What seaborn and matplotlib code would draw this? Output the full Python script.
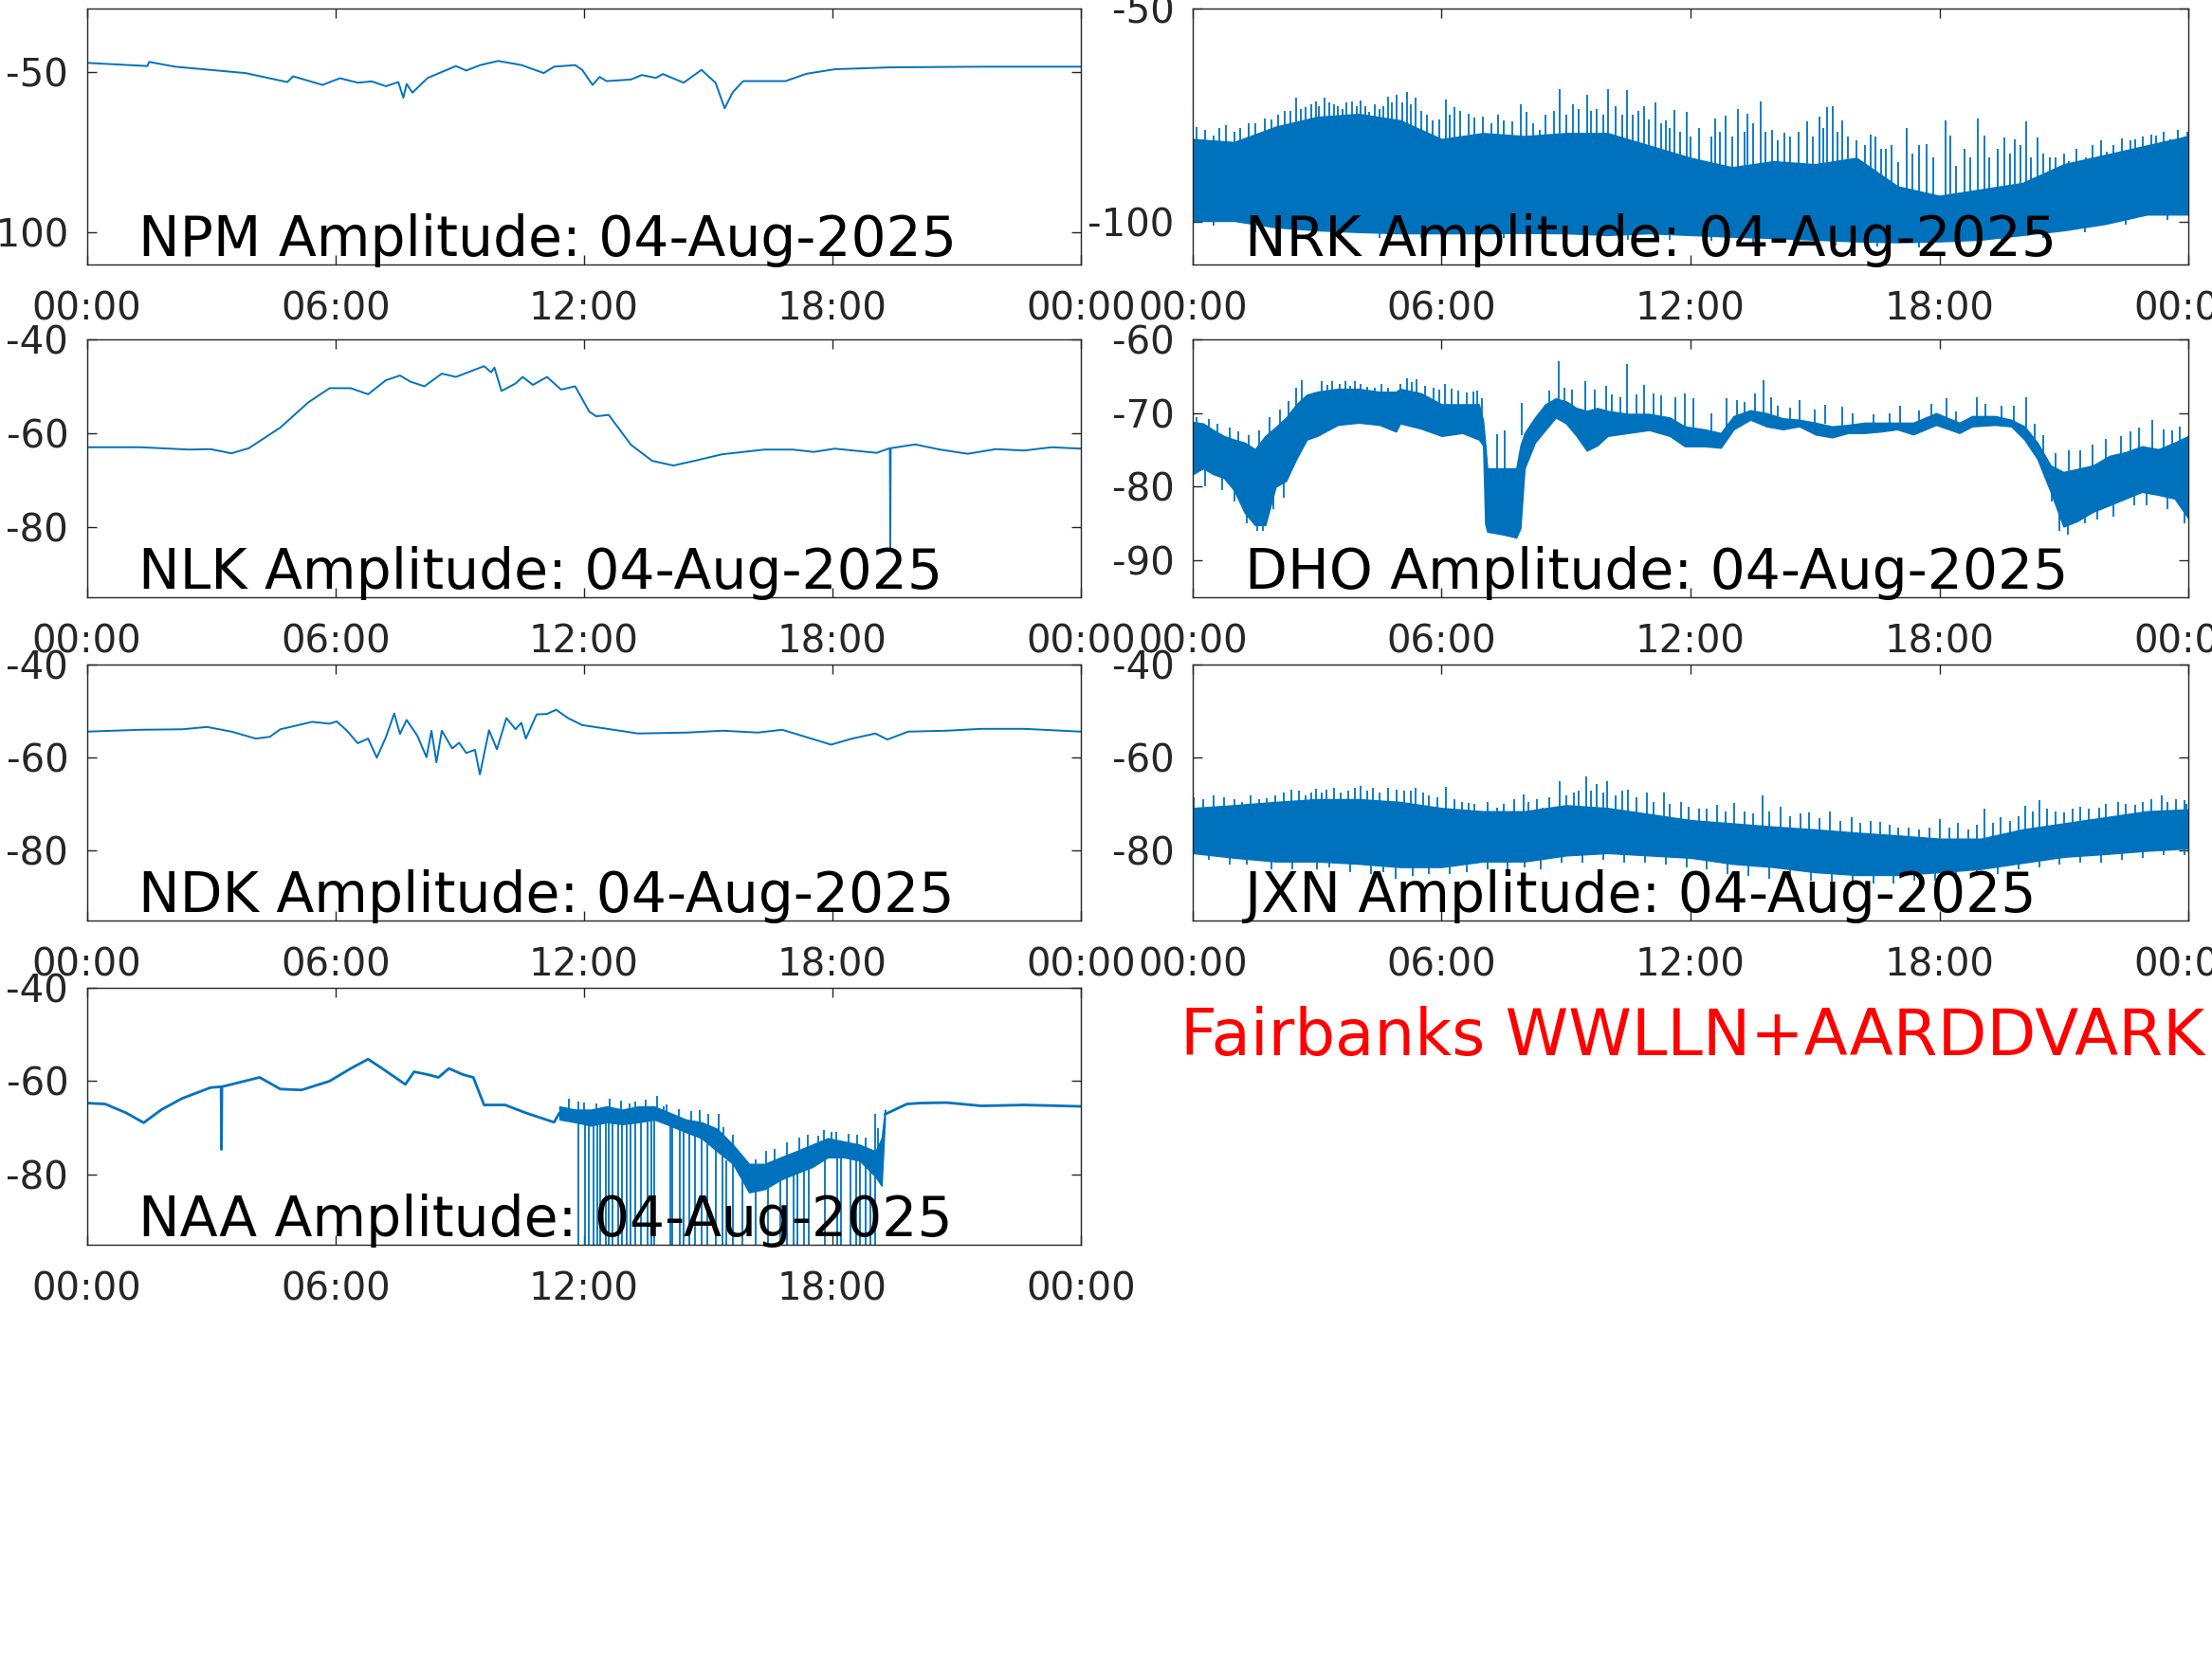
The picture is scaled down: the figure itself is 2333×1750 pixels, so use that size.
import numpy as np
import pandas as pd
import matplotlib
matplotlib.use("Agg")
import matplotlib.pyplot as plt
import seaborn as sns

# ---------------- data (hours UT, amplitude dB) ----------------
hour_ticks = [0, 6, 12, 18, 24]
hour_labels = ["00:00", "06:00", "12:00", "18:00", "00:00"]

npm_t = [0, 1.46, 1.5, 2.13, 3.15, 3.83, 4.84, 4.98, 5.69, 6.11, 6.54, 6.88, 7.22, 7.52, 7.64,
         7.72, 7.86, 8.23, 8.91, 9.16, 9.5, 9.93, 10.5, 11.03, 11.28, 11.79, 11.96, 12.21, 12.38,
         12.55, 13.14, 13.4, 13.74, 13.91, 14.41, 14.84, 15.18, 15.4, 15.6, 15.85, 16.87, 17.38,
         18.06, 19.41, 21.61, 24]
npm_v = [-47.0, -48.0, -46.7, -48.2, -49.4, -50.2, -53.0, -51.2, -53.9, -51.8, -53.2, -52.8, -54.3,
         -53.0, -57.9, -53.6, -56.3, -51.7, -48.0, -49.4, -47.7, -46.4, -47.7, -50.2, -48.2, -47.7,
         -49.2, -53.9, -51.4, -52.7, -52.2, -50.8, -51.7, -50.5, -53.2, -49.2, -53.2, -61.2, -56.1,
         -52.7, -52.7, -50.4, -49.0, -48.4, -48.2, -48.2]

nlk_t = [0, 1.29, 2.47, 2.98, 3.49, 3.91, 4.67, 5.35, 5.86, 6.37, 6.79, 7.22, 7.56, 7.81, 8.15,
         8.57, 8.91, 9.59, 9.76, 9.84, 10.01, 10.35, 10.52, 10.77, 11.11, 11.45, 11.79, 12.13, 12.3,
         12.6, 13.14, 13.65, 14.16, 14.67, 15.34, 16.36, 17.04, 17.55, 18.06, 19.07, 19.39, 19.4,
         19.41, 20.0, 20.6, 21.27, 21.95, 22.63, 23.3, 24]
nlk_v = [-63.0, -63.0, -63.5, -63.4, -64.3, -63.2, -58.8, -53.4, -50.4, -50.4, -51.7, -48.7, -47.7,
         -49.0, -50.0, -47.3, -48.0, -45.7, -47.0, -46.0, -51.0, -49.4, -48.0, -49.7, -48.0, -50.7,
         -50.0, -55.4, -56.4, -56.1, -62.5, -65.9, -66.9, -65.9, -64.5, -63.5, -63.5, -64.0, -63.3,
         -64.2, -63.2, -84.7, -63.2, -62.4, -63.5, -64.4, -63.4, -63.7, -63.0, -63.3]

ndk_t = [0, 1.29, 2.3, 2.9, 3.49, 4.08, 4.42, 4.67, 5.44, 5.86, 6.03, 6.28, 6.54, 6.79, 7.0, 7.22,
         7.42, 7.56, 7.72, 7.98, 8.2, 8.32, 8.44, 8.57, 8.82, 8.99, 9.16, 9.37, 9.49, 9.71, 9.9,
         10.13, 10.35, 10.49, 10.6, 10.86, 11.11, 11.33, 11.62, 11.96, 12.64, 13.31, 14.5, 15.35,
         16.2, 16.79, 17.38, 17.97, 18.48, 19.04, 19.33, 19.83, 20.76, 21.61, 22.63, 24]
ndk_v = [-54.4, -54.0, -53.9, -53.4, -54.4, -55.9, -55.5, -53.9, -52.3, -52.7, -52.2, -54.2, -56.9,
         -55.9, -60.0, -55.6, -50.5, -54.9, -51.9, -55.3, -59.9, -54.2, -61.0, -54.2, -58.0, -56.8,
         -59.0, -58.3, -63.6, -54.1, -58.2, -51.5, -53.9, -52.5, -55.9, -50.7, -50.6, -49.7, -51.5,
         -53.0, -53.9, -54.8, -54.6, -54.2, -54.6, -54.0, -55.6, -57.2, -55.9, -54.8, -56.1, -54.4,
         -54.2, -53.8, -53.8, -54.4]

# NRK: dense noisy band (hourly envelope) + spikes above / dips below
nrk_t = list(range(25))
nrk_upper = [-80.6, -81.3, -77.7, -75.4, -74.7, -76.2, -80.6, -79.2, -79.9, -79.2, -79.2, -82.1,
             -85.0, -87.2, -85.8, -86.5, -85.0, -91.7, -93.9, -92.4, -90.9, -86.5, -84.3, -82.1, -79.9]
nrk_lower = [-99.8, -99.8, -101.3, -102.0, -102.4, -102.7, -102.7, -102.7, -102.6, -102.7, -103.1,
             -102.7, -103.1, -103.5, -103.8, -104.2, -104.6, -104.8, -104.6, -104.2, -103.1, -102.0,
             -100.5, -98.3, -98.3]
nrk_spike_t = [0.10, 0.50, 0.80, 1.35, 1.73, 2.21, 2.50, 2.72, 2.97, 3.18, 3.40, 3.61, 3.83, 4.05,
               4.26, 4.51, 4.72, 4.91, 5.16, 5.37, 5.79, 6.10, 6.31, 6.65, 7.00, 7.50, 7.90, 8.05,
               8.36, 8.84, 9.16, 9.50, 9.73, 10.02, 10.46, 10.89, 11.15, 11.40, 11.62, 11.91, 12.34,
               12.60, 12.84, 13.15, 13.37, 13.69, 13.97, 14.26, 14.82, 15.11, 15.28, 15.42, 15.66,
               16.34, 16.60, 16.85, 17.20, 17.68, 18.15, 18.27, 18.92, 19.09, 19.56, 19.81, 20.09,
               20.36, 20.67, 21.11, 21.52, 22.03, 22.72, 23.23, 23.57, 23.97,
               0.3, 0.65, 1.0, 1.15, 1.5, 1.9, 2.05, 2.35, 2.6, 2.85, 3.05, 3.3, 3.5, 3.7, 3.95,
               4.15, 4.4, 4.6, 4.8, 5.05, 5.25, 5.5, 5.65, 5.95, 6.2, 6.45, 6.8, 7.2, 7.35, 7.7, 8.2,
               8.5, 8.7, 9.0, 9.3, 9.6, 9.9, 10.2, 10.35, 10.6, 10.75, 11.0, 11.3, 11.5, 11.75, 12.0,
               12.2, 12.5, 12.7, 13.0, 13.3, 13.5, 13.8, 14.1, 14.4, 14.6, 14.95, 15.2, 15.55, 15.8,
               16.0, 16.2, 16.45, 16.7, 17.0, 17.35, 17.5, 17.85, 18.4, 18.6, 18.75, 19.2, 19.4,
               19.7, 19.95, 20.2, 20.5, 20.8, 21.0, 21.3, 21.7, 21.9, 22.2, 22.4, 22.6, 22.9, 23.1,
               23.4, 23.75, 23.9]
nrk_spike_top = [-77.7, -79.9, -77.3, -76.9, -75.8, -74.0, -71.0, -73.2, -71.8, -71.0, -72.5, -73.6,
                 -71.8, -71.6, -74.3, -73.6, -70.6, -70.3, -69.5, -71.0, -76.2, -71.4, -73.2, -74.7,
                 -75.4, -76.2, -72.5, -74.3, -78.4, -69.0, -72.5, -70.3, -73.6, -68.8, -69.2, -72.9,
                 -72.1, -76.2, -73.7, -74.3, -85.8, -75.8, -75.2, -73.6, -74.7, -71.9, -78.4, -79.1,
                 -76.5, -75.4, -73.2, -72.9, -76.2, -79.5, -82.8, -82.1, -78.0, -81.7, -76.3, -79.9,
                 -75.8, -79.9, -80.2, -80.6, -76.5, -80.2, -85.0, -85.8, -85.0, -83.6, -80.6, -79.9,
                 -80.6, -78.8,
                 -78.5, -78.0, -79.0, -78.0, -77.0, -76.0, -75.0, -74.0, -73.5, -72.5, -73.0, -72.0,
                 -73.0, -72.0, -73.0, -73.0, -72.5, -73.0, -72.0, -72.0, -72.5, -74.0, -75.0, -76.0,
                 -75.0, -74.0, -75.5, -77.0, -75.0, -76.5, -77.0, -75.0, -74.0, -75.0, -73.5, -74.0,
                 -75.0, -73.0, -75.0, -75.0, -74.0, -76.0, -77.0, -78.0, -79.0, -80.0, -78.0, -80.0,
                 -79.0, -80.0, -79.0, -77.0, -79.0, -81.0, -80.0, -79.0, -80.0, -78.0, -79.0, -80.0,
                 -81.0, -82.0, -80.0, -83.0, -86.0, -84.0, -82.0, -85.0, -87.0, -83.0, -85.0, -85.0,
                 -83.0, -84.0, -82.0, -85.0, -84.0, -85.0, -84.0, -83.0, -82.0, -81.0, -82.0, -80.5,
                 -81.0, -80.0, -79.5, -79.0, -78.5, -80.0]
nrk_dip_t = [0.5, 1.5, 2.5, 3.5, 4.5, 5.5, 6.5, 7.5, 8.5, 9.5, 10.5, 11.5, 12.5, 13.5, 14.5, 15.5,
             16.5, 17.5, 18.5, 19.5, 20.5, 21.5, 22.5, 23.5]
nrk_dip_bottom = [-101.0, -102.5, -103.2, -103.6, -103.9, -103.9, -103.9, -103.9, -103.9, -104.2,
                  -104.2, -104.2, -104.5, -104.9, -105.2, -105.6, -105.9, -106.0, -105.6, -104.9,
                  -103.8, -102.5, -100.6, -99.5]
nrk_base = -95.0

# DHO: noisy band envelope + spikes (time, tip, root)
dho_t = [0, 0.25, 0.5, 0.75, 1, 1.25, 1.5, 1.75, 2, 2.25, 2.5, 2.75, 3, 3.5, 4, 4.5, 4.9, 5, 5.5,
         6, 6.5, 6.9, 7.0, 7.05, 7.1, 7.5, 7.8, 7.9, 8.0, 8.25, 8.5, 8.75, 9, 9.25, 9.5, 9.75, 10,
         10.5, 11, 11.5, 11.86, 12.33, 12.73, 13.04, 13.44, 13.83, 14.22, 14.62, 15.01, 15.41, 15.8,
         16.19, 16.59, 16.98, 17.37, 17.92, 18.48, 18.79, 19.34, 19.73, 20.05, 20.36, 20.68, 20.99,
         21.31, 21.7, 22.1, 22.49, 22.88, 23.28, 23.67, 24.0]
dho_upper = [-71.2, -71.4, -72.3, -73.1, -73.6, -74.0, -74.9, -73.1, -71.9, -70.6, -68.8, -67.5,
             -67.1, -66.7, -66.7, -67.1, -67.1, -66.7, -67.3, -68.8, -68.8, -68.8, -71.0, -74.0,
             -77.5, -77.5, -77.5, -74.4, -72.7, -70.6, -68.8, -68.0, -68.4, -69.3, -69.7, -69.3,
             -69.7, -70.1, -70.1, -70.6, -71.8, -72.2, -72.7, -70.4, -69.6, -70.0, -70.7, -70.9,
             -71.3, -71.8, -71.6, -71.3, -71.3, -71.3, -71.3, -70.0, -71.3, -70.4, -70.4, -70.9,
             -71.8, -74.0, -77.1, -78.0, -77.6, -77.1, -75.8, -75.3, -74.5, -74.9, -74.0, -73.1]
dho_lower = [-78.3, -77.5, -78.3, -78.8, -80.5, -83.5, -85.2, -85.2, -80.0, -79.2, -76.2, -73.6,
             -73.1, -71.6, -71.3, -71.6, -72.5, -71.4, -72.1, -73.1, -72.7, -73.6, -74.4, -85.0,
             -86.1, -86.5, -86.9, -85.6, -77.5, -74.0, -72.3, -70.6, -71.4, -73.1, -75.1, -74.4,
             -73.1, -72.7, -72.3, -73.1, -74.5, -74.5, -74.7, -72.2, -70.9, -71.8, -72.2, -71.8,
             -72.9, -73.3, -72.7, -72.7, -72.5, -72.2, -72.9, -71.6, -72.7, -71.8, -71.6, -71.8,
             -73.6, -76.2, -80.7, -85.4, -84.7, -83.4, -82.5, -81.6, -80.7, -81.1, -81.6, -84.3]
dho_spikes = [(2.49, -66.5, -70), (2.63, -65.5, -69), (3.12, -65.6, -68), (3.37, -65.6, -68),
              (3.69, -65.6, -68), (3.90, -65.7, -68), (4.38, -66.6, -68), (5.16, -65.3, -68),
              (5.39, -65.4, -68), (6.07, -66.0, -69.5), (6.24, -66.7, -69.5), (6.76, -67.1, -69.5),
              (6.97, -68.0, -71), (7.33, -72.9, -78), (7.52, -72.3, -78), (7.94, -68.6, -73),
              (8.83, -63.0, -69), (9.46, -65.6, -70), (9.96, -66.3, -70), (10.48, -63.3, -70.5),
              (10.87, -66.2, -70.5), (11.63, -67.9, -71), (11.86, -67.3, -72), (12.06, -68.0, -72.5),
              (12.86, -68.0, -72), (13.12, -68.2, -70.5), (13.56, -67.3, -70), (13.77, -65.5, -70),
              (13.95, -67.8, -70.5), (14.63, -68.2, -71), (15.25, -68.9, -71.5), (15.66, -69.1, -72),
              (17.06, -69.0, -71.5), (18.16, -68.0, -70.5), (18.91, -67.9, -70.5), (20.09, -67.8, -72),
              (21.11, -75.1, -78), (22.37, -73.1, -76), (23.12, -70.9, -75), (23.40, -72.2, -75),
              (3.25, -66.2, -68), (3.55, -66.0, -68), (3.8, -66.3, -68), (4.05, -66.0, -68),
              (4.2, -66.4, -68), (4.55, -66.1, -68), (4.7, -66.5, -68), (5.0, -66.0, -68),
              (5.27, -65.8, -68), (5.6, -66.3, -68), (5.8, -66.5, -69), (5.95, -66.8, -69),
              (6.4, -66.9, -69.5), (6.6, -67.2, -69.5), (6.85, -67.0, -69.5), (8.6, -67.0, -69.5),
              (8.95, -66.5, -69), (9.15, -66.8, -69.5), (9.7, -66.8, -70), (10.1, -67.5, -70.5),
              (10.3, -67.8, -70.5), (10.7, -67.5, -70.5), (11.1, -67.3, -70.5), (11.3, -67.6, -70.5),
              (12.5, -70.0, -72.5), (13.3, -68.5, -70.5), (14.1, -69.0, -71), (14.4, -69.3, -71),
              (15.0, -69.5, -72), (15.9, -70.0, -72), (16.4, -70.2, -72), (16.8, -70.0, -72),
              (17.5, -69.6, -71.5), (17.8, -68.8, -70.5), (18.4, -69.8, -71.5), (19.1, -68.8, -70.5),
              (19.5, -69.0, -71), (19.8, -69.0, -71), (20.3, -71.5, -74), (20.5, -73.0, -76),
              (20.8, -75.5, -79), (21.4, -75.0, -79), (21.7, -74.3, -78), (22.0, -73.5, -77),
              (22.6, -72.5, -76), (22.8, -72.0, -76), (23.6, -72.3, -76), (23.8, -71.8, -76),
              (0.1, -70.5, -73), (0.4, -70.8, -73), (0.6, -71.5, -74), (0.9, -72.0, -75),
              (1.1, -72.5, -76), (1.35, -73.0, -77), (1.6, -72.3, -77), (1.85, -70.5, -75),
              (2.1, -69.5, -73), (2.3, -68.3, -72),
              (0.3, -80.0, -76), (0.7, -80.5, -76), (1.0, -82.0, -77), (1.3, -85.0, -79),
              (1.55, -86.0, -80), (1.7, -86.0, -80), (1.95, -83.0, -78), (2.2, -81.5, -76),
              (20.7, -82.0, -78), (20.9, -86.0, -80), (21.1, -86.5, -80), (21.5, -85.0, -79),
              (21.8, -84.5, -79), (22.2, -84.0, -78), (22.7, -82.5, -77), (23.0, -82.5, -77),
              (23.5, -83.0, -77), (23.9, -85.0, -78)]

# JXN: noisy band envelope + spikes / dips
jxn_t = list(range(25))
jxn_upper = [-70.8, -70.2, -69.5, -68.9, -68.9, -69.5, -70.8, -71.5, -71.5, -70.2, -70.8, -72.1,
             -73.4, -74.1, -74.8, -75.4, -76.1, -76.7, -77.4, -77.4, -75.4, -74.1, -72.8, -71.5, -71.1]
jxn_lower = [-80.5, -81.5, -82.3, -82.3, -82.8, -83.5, -83.5, -82.3, -82.3, -81.0, -80.5, -81.0,
             -81.5, -82.8, -83.5, -84.6, -85.2, -85.2, -84.6, -83.9, -82.6, -81.3, -80.7, -80.0, -79.5]
jxn_spike_t = [0.03, 0.5, 1.18, 1.78, 2.38, 2.72, 2.97, 3.23, 3.57, 4.05, 4.51, 4.91, 5.37, 6.10,
               6.65, 7.33, 7.98, 8.44, 8.84, 9.18, 9.49, 9.73, 10.0, 10.5, 10.96, 11.35, 11.78,
               12.63, 13.06, 13.74, 14.17, 14.85, 15.37, 15.88, 16.56, 17.25, 18.02, 18.44, 19.09,
               19.47, 20.07, 20.41, 21.0, 21.86, 22.72, 23.35, 23.91,
               0.25, 0.75, 1.0, 1.4, 1.6, 2.0, 2.2, 2.55, 2.85, 3.1, 3.4, 3.75, 3.9, 4.2, 4.35, 4.7,
               5.1, 5.25, 5.55, 5.7, 5.9, 6.3, 6.5, 6.8, 7.1, 7.5, 7.75, 8.1, 8.3, 8.6, 9.0, 9.3,
               9.6, 9.9, 10.2, 10.35, 10.7, 11.1, 11.5, 11.95, 12.2, 12.4, 12.85, 13.3, 13.5, 13.9,
               14.4, 14.65, 15.1, 15.6, 16.1, 16.35, 16.8, 17.0, 17.5, 17.75, 18.25, 18.7, 18.9,
               19.3, 19.7, 19.9, 20.25, 20.6, 20.8, 21.2, 21.4, 21.6, 22.0, 22.3, 22.5, 22.9, 23.1,
               23.5, 23.7, 23.95]
jxn_spike_top = [-68.5, -68.2, -69.5, -68.7, -66.9, -68.2, -66.6, -66.9, -67.5, -66.1, -67.5, -66.9,
                 -66.4, -66.2, -69.8, -70.8, -67.9, -70.8, -65.0, -67.5, -64.1, -65.7, -65.0, -66.9,
                 -67.5, -67.5, -69.5, -70.2, -69.8, -68.1, -70.5, -71.8, -71.5, -72.8, -73.8, -75.1,
                 -73.1, -74.1, -71.0, -72.8, -70.3, -69.2, -71.8, -70.8, -70.2, -68.2, -69.2,
                 -69.0, -68.5, -69.0, -68.0, -69.0, -68.0, -67.5, -67.0, -67.5, -67.5, -66.5, -67.0,
                 -66.5, -67.0, -66.5, -66.5, -67.0, -67.0, -67.5, -68.0, -68.5, -69.0, -69.5, -70.0,
                 -69.5, -70.0, -69.0, -69.5, -69.0, -68.5, -68.0, -67.0, -67.0, -67.5, -68.0, -67.0,
                 -68.5, -69.5, -70.0, -70.5, -71.0, -71.0, -71.5, -71.5, -72.0, -71.5, -72.5, -72.0,
                 -73.0, -73.5, -74.0, -73.5, -74.5, -75.0, -75.5, -75.0, -75.0, -75.5, -74.5, -74.0,
                 -73.5, -72.5, -71.5, -71.0, -71.5, -71.0, -70.5, -71.0, -70.0, -69.5, -70.0, -69.5,
                 -69.0, -69.5, -69.0, -70.0]
jxn_dip_t = [0.4, 0.9, 1.3, 1.9, 2.4, 3.0, 3.3, 3.8, 4.3, 4.6, 4.9, 5.3, 5.7, 6.2, 6.6, 7.1, 7.6,
             8.0, 8.4, 8.9, 9.4, 9.9, 10.4, 10.9, 11.4, 11.9, 12.4, 12.9, 13.4, 13.9, 14.4, 14.9,
             15.4, 15.9, 16.4, 16.9, 17.4, 17.9, 18.4, 18.9, 19.4, 19.9, 20.4, 20.9, 21.4, 21.9,
             22.4, 22.9, 23.4, 23.9]
jxn_dip_bottom = [-82.0, -83.0, -83.0, -84.0, -84.0, -84.0, -83.5, -84.5, -85.0, -84.5, -86.0, -85.5,
                  -85.0, -85.0, -84.5, -84.0, -84.5, -83.5, -84.0, -82.5, -82.5, -82.0, -82.5, -82.5,
                  -83.0, -83.5, -84.0, -85.0, -85.5, -86.0, -86.0, -86.5, -87.0, -87.0, -87.0, -87.0,
                  -86.5, -86.5, -86.0, -85.5, -85.0, -84.0, -83.5, -83.0, -82.5, -82.5, -82.0, -81.5,
                  -81.0, -81.0]
jxn_base = -79.0

# NAA: quiet trace, noisy interval with signal drop-outs, quiet trace
naa_t1 = [0, 0.44, 0.95, 1.37, 1.8, 2.3, 2.98, 3.24, 3.25, 3.26, 3.49, 4.17, 4.67, 5.18, 5.86,
          6.37, 6.79, 7.13, 7.69, 7.9, 8.23, 8.49, 8.74, 9.08, 9.33, 9.59, 10.1, 10.6, 11.28, 11.41]
naa_v1 = [-64.7, -64.9, -66.8, -68.9, -66.1, -63.7, -61.4, -61.2, -74.6, -61.2, -60.7, -59.2, -61.7,
          -61.9, -60.0, -57.3, -55.3, -57.3, -60.7, -58.0, -58.6, -59.2, -57.3, -58.6, -59.2, -65.1,
          -65.1, -66.8, -68.8, -66.8]
naa_t2 = [19.27, 19.8, 20.11, 20.76, 21.61, 22.63, 24]
naa_v2 = [-67.1, -64.9, -64.7, -64.6, -65.3, -65.1, -65.4]
naa_band_t = [11.41, 11.79, 12.17, 12.55, 12.93, 13.32, 13.7, 14.08, 14.46, 14.84, 15.22, 15.6,
              15.99, 16.37, 16.75, 17.13, 17.51, 17.89, 18.28, 18.66, 19.04, 19.19, 19.27]
naa_band_upper = [-65.4, -66.1, -66.1, -65.4, -66.1, -65.4, -65.4, -66.8, -68.2, -68.8, -70.2,
                  -73.6, -77.7, -77.7, -76.3, -75.0, -73.6, -72.2, -72.9, -73.6, -75.0, -72.2, -66.1]
naa_band_lower = [-68.2, -68.8, -69.5, -68.8, -69.2, -68.8, -68.2, -69.5, -70.9, -72.2, -75.0,
                  -77.7, -83.8, -83.1, -81.1, -79.7, -78.4, -76.3, -76.3, -77.0, -80.4, -82.4, -68.2]
naa_dropouts = [(11.87, -67), (12.02, -68), (12.13, -69), (12.23, -69), (12.32, -69), (12.40, -69),
                (12.54, -69), (12.61, -69), (12.69, -69), (12.82, -69), (12.93, -69), (13.03, -69),
                (13.12, -69), (13.24, -69), (13.38, -68.5), (13.54, -68), (13.62, -68), (13.71, -68),
                (14.08, -69.5), (14.14, -69.5), (14.31, -70), (14.42, -70.5), (14.54, -71),
                (14.69, -71.5), (14.84, -72), (14.99, -73), (15.19, -74.5), (15.34, -76), (15.45, -77),
                (15.59, -77.5), (15.83, -81), (16.14, -83), (16.44, -82.5), (16.75, -81),
                (16.90, -80.5), (17.06, -80), (17.15, -79.5), (17.32, -79), (17.44, -78.5),
                (17.82, -76.5), (18.12, -76), (18.20, -76), (18.43, -76.5), (18.58, -77), (18.66, -77),
                (18.81, -78), (18.92, -79), (19.04, -80)]
naa_spikes = [(11.64, -63.7, -66.5), (11.87, -64.4, -67), (12.63, -63.7, -67), (13.24, -64.4, -67),
              (13.77, -63.1, -66.5), (13.93, -65.4, -67), (15.26, -67.1, -71), (15.38, -69.9, -72),
              (16.14, -76.7, -79), (17.67, -71.6, -74), (17.97, -70.9, -73.5), (19.04, -67.1, -76),
              (12.0, -64.5, -67), (12.3, -64.8, -67), (12.9, -64.2, -67), (13.1, -64.8, -67),
              (13.5, -64.0, -66.5), (14.0, -65.0, -67.5), (14.3, -66.0, -69), (14.6, -66.5, -69.5),
              (14.8, -66.3, -70), (15.0, -67.0, -71), (15.6, -71.5, -75), (16.4, -75.0, -79),
              (16.6, -74.5, -78), (16.9, -73.0, -77), (17.2, -72.0, -76), (17.4, -71.5, -75),
              (17.8, -70.5, -74), (18.1, -70.8, -74), (18.4, -71.2, -74), (18.6, -71.5, -75),
              (18.8, -72.0, -76), (19.1, -70.0, -76)]

# ---------------- styling ----------------
sns.set_theme(style="ticks")
plt.rcParams["font.family"] = ["DejaVu Sans"]
plt.rcParams["axes.unicode_minus"] = False

LINE = "#0072BD"
GRAY = "#262626"
DATE = "04-Aug-2025"

fig = plt.figure(figsize=(23.33, 17.5), dpi=100)
fig.patch.set_facecolor("white")

col_x = [(0.0393, 0.4493), (0.5392, 0.4501)]
row_y = [(0.8406, 0.1543), (0.6400, 0.1554), (0.4451, 0.1543), (0.2497, 0.1550)]


def make_ax(r, c, ylim, yticks, name):
    x0, w = col_x[c]
    y0, h = row_y[r]
    ax = fig.add_axes([x0, y0, w, h])
    ax.set_xlim(0, 24)
    ax.set_ylim(*ylim)
    ax.set_xticks(hour_ticks)
    ax.set_xticklabels(hour_labels)
    ax.set_yticks(yticks)
    ax.set_yticklabels([str(v) for v in yticks])
    ax.tick_params(axis="both", direction="in", length=7, width=1.0, top=True, right=True,
                   labelsize=29, colors=GRAY)
    ax.tick_params(axis="x", pad=20)
    ax.tick_params(axis="y", pad=14)
    for s in ax.spines.values():
        s.set_visible(True)
        s.set_color(GRAY)
        s.set_linewidth(1.0)
    ax.text(0.052, 0.032, f"{name} Amplitude: {DATE}", transform=ax.transAxes, fontsize=42,
            ha="left", va="baseline", color="black", clip_on=False, zorder=10)
    return ax


def line(ax, t, v, lw=1.4):
    df = pd.DataFrame({"t": t, "v": v})
    sns.lineplot(data=df, x="t", y="v", ax=ax, color=LINE, linewidth=lw, estimator=None,
                 sort=False, legend=False)
    ax.set_xlabel("")
    ax.set_ylabel("")


def band(ax, t, lo, hi):
    ax.fill_between(t, lo, hi, color=LINE, linewidth=1.0, edgecolor=LINE)


def sticks(ax, t, root, tip):
    ax.vlines(t, root, tip, color=LINE, linewidth=1.3)


# NPM
ax = make_ax(0, 0, (-110, -30), [-100, -50], "NPM")
line(ax, npm_t, npm_v)

# NRK
ax = make_ax(0, 1, (-110, -50), [-100, -50], "NRK")
band(ax, nrk_t, nrk_lower, nrk_upper)
sticks(ax, nrk_spike_t, nrk_base, nrk_spike_top)
sticks(ax, nrk_dip_t, nrk_base, nrk_dip_bottom)

# NLK
ax = make_ax(1, 0, (-95, -40), [-80, -60, -40], "NLK")
line(ax, nlk_t, nlk_v)

# DHO
ax = make_ax(1, 1, (-95, -60), [-90, -80, -70, -60], "DHO")
band(ax, dho_t, dho_lower, dho_upper)
sticks(ax, [s[0] for s in dho_spikes], [s[2] for s in dho_spikes], [s[1] for s in dho_spikes])

# NDK
ax = make_ax(2, 0, (-95, -40), [-80, -60, -40], "NDK")
line(ax, ndk_t, ndk_v)

# JXN
ax = make_ax(2, 1, (-95, -40), [-80, -60, -40], "JXN")
band(ax, jxn_t, jxn_lower, jxn_upper)
sticks(ax, jxn_spike_t, jxn_base, jxn_spike_top)
sticks(ax, jxn_dip_t, jxn_base, jxn_dip_bottom)

# NAA
ax = make_ax(3, 0, (-95, -40), [-80, -60, -40], "NAA")
line(ax, naa_t1, naa_v1, lw=2.0)
line(ax, naa_t2, naa_v2, lw=2.0)
band(ax, naa_band_t, naa_band_lower, naa_band_upper)
sticks(ax, [d[0] for d in naa_dropouts], -97, [d[1] for d in naa_dropouts])
sticks(ax, [s[0] for s in naa_spikes], [s[2] for s in naa_spikes], [s[1] for s in naa_spikes])

fig.text(0.5336, 0.364, "Fairbanks WWLLN+AARDDVARK", fontsize=48.5, color="red",
         ha="left", va="baseline")

fig.savefig("out.png", dpi=100, facecolor="white")
